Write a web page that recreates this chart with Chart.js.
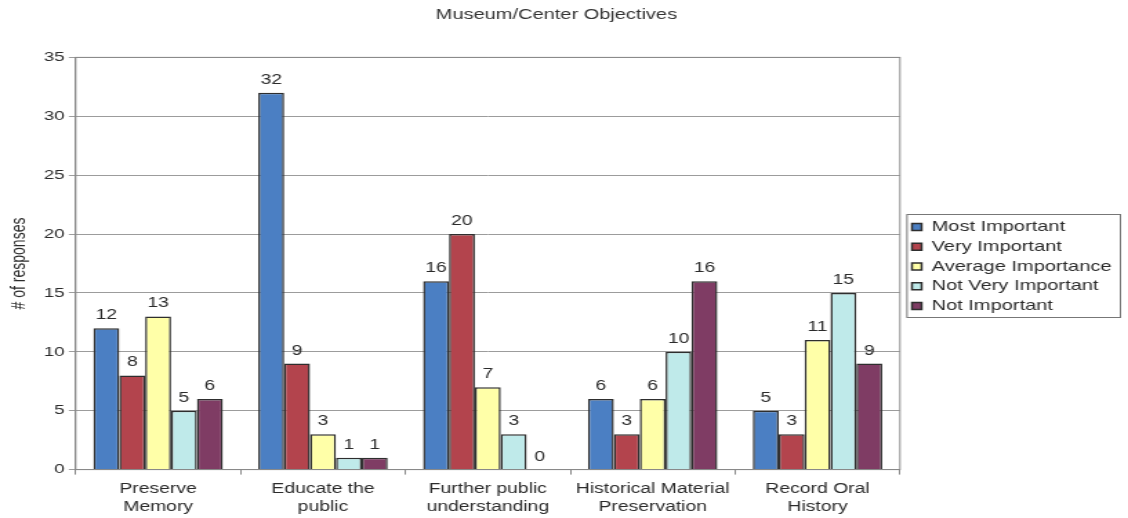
<!DOCTYPE html>
<html>
<head>
<meta charset="utf-8">
<script src="https://cdn.jsdelivr.net/npm/chart.js@4"></script>
<style>
  html, body { margin: 0; padding: 0; background: #fff; overflow: hidden; }
  /* the chart is laid out narrow and widened to the page */
  #wrap { width: 817px; height: 518px; transform: scaleX(1.3807); transform-origin: 0 0; }
</style>
</head>
<body>
<div id="wrap"><canvas id="objectivesChart" width="817" height="518"></canvas></div>
<script>
const categories = [
    ['Preserve', 'Memory'],
    ['Educate the', 'public'],
    ['Further public', 'understanding'],
    ['Historical Material', 'Preservation'],
    ['Record Oral', 'History']
];
const mostImportant = [12, 32, 16, 6, 5];
const veryImportant = [8, 9, 20, 3, 3];
const averageImportance = [13, 3, 7, 6, 11];
const notVeryImportant = [5, 1, 3, 10, 15];
const notImportant = [6, 1, 0, 16, 9];
const yTicks = [0, 5, 10, 15, 20, 25, 30, 35];

const FONT = '"Liberation Sans", Arial, sans-serif';
const TEXT = '#2b2b2b';

// value labels above each bar
const barLabels = {
    id: 'barLabels',
    afterDatasetsDraw(chart) {
        const ctx = chart.ctx;
        ctx.save();
        ctx.font = '14px ' + FONT;
        ctx.fillStyle = TEXT;
        ctx.textAlign = 'center';
        ctx.textBaseline = 'alphabetic';
        chart.data.datasets.forEach((ds, i) => {
            chart.getDatasetMeta(i).data.forEach((bar, j) => {
                ctx.fillText(ds.data[j], bar.x, bar.y - 9);
            });
        });
        ctx.restore();
    }
};

// fixed legend width, nudged title/legend, frames round plot area and legend
const frames = {
    id: 'frames',
    beforeInit(chart) {
        const lg = chart.legend;
        const fit = lg.fit.bind(lg);
        lg.fit = function () { fit(); this.width = 162.2; };
    },
    afterLayout(chart) {
        const lg = chart.legend;
        lg.left += 3.5; lg.right += 3.5;
        lg.top += 3; lg.bottom += 3;
        const tb = chart.titleBlock;
        tb.left -= 7; tb.right -= 7;
    },
    beforeDatasetsDraw(chart) {
        const a = chart.chartArea;
        const ctx = chart.ctx;
        ctx.save();
        ctx.strokeStyle = '#8a8a8a';
        ctx.lineWidth = 1;
        ctx.strokeRect(a.left, a.top, a.right - a.left, a.bottom - a.top);
        ctx.restore();
    },
    afterDraw(chart) {
        const items = chart.legend.legendHitBoxes;
        if (!items.length) return;
        const last = items[items.length - 1];
        const left = items[0].left - 3.6;
        const top = items[0].top - 6;
        const bottom = last.top + last.height + 4;
        const ctx = chart.ctx;
        ctx.save();
        ctx.strokeStyle = '#777';
        ctx.lineWidth = 1;
        ctx.strokeRect(left, Math.round(top) + 0.5, 154.6, Math.round(bottom - top));
        ctx.restore();
    }
};

const common = { borderColor: '#2e2e2e', borderWidth: 1.5, barPercentage: 1.0, categoryPercentage: 0.785 };

new Chart(document.getElementById('objectivesChart').getContext('2d'), {
    type: 'bar',
    data: {
        labels: categories,
        datasets: [
            Object.assign({ label: 'Most Important', data: mostImportant, backgroundColor: '#4b7fc3' }, common),
            Object.assign({ label: 'Very Important', data: veryImportant, backgroundColor: '#b3444d' }, common),
            Object.assign({ label: 'Average Importance', data: averageImportance, backgroundColor: '#ffffa8' }, common),
            Object.assign({ label: 'Not Very Important', data: notVeryImportant, backgroundColor: '#bfeaea' }, common),
            Object.assign({ label: 'Not Important', data: notImportant, backgroundColor: '#7f3c64' }, common)
        ]
    },
    plugins: [barLabels, frames],
    options: {
        responsive: false,
        animation: false,
        devicePixelRatio: 1,
        layout: { padding: { top: 6, right: 3, bottom: -3, left: 6 } },
        plugins: {
            title: {
                display: true,
                text: 'Museum/Center Objectives',
                color: '#333',
                font: { family: FONT, size: 14.5, weight: 'normal' },
                padding: { top: 0, bottom: 34 }
            },
            legend: {
                position: 'right',
                align: 'center',
                labels: {
                    color: TEXT,
                    font: { family: FONT, size: 14.5 },
                    boxWidth: 7,
                    boxHeight: 7,
                    padding: 5.2
                }
            },
            tooltip: { enabled: false }
        },
        scales: {
            x: {
                grid: { display: true, drawOnChartArea: false, offset: true, tickLength: 5, color: '#888' },
                border: { color: '#888' },
                ticks: { color: TEXT, font: { family: FONT, size: 14, lineHeight: 1.3 }, padding: 5, maxRotation: 0 }
            },
            y: {
                min: 0,
                max: 35,
                afterBuildTicks: axis => { axis.ticks = yTicks.map(v => ({ value: v })); },
                grid: { color: '#9c9c9c', tickLength: 5 },
                border: { color: '#888' },
                ticks: { color: TEXT, font: { family: FONT, size: 13.5 }, padding: 3 },
                title: {
                    display: true,
                    text: '# of responses',
                    color: TEXT,
                    font: { family: FONT, size: 14 },
                    padding: { top: 0, bottom: 6 }
                }
            }
        }
    }
});
</script>
</body>
</html>
